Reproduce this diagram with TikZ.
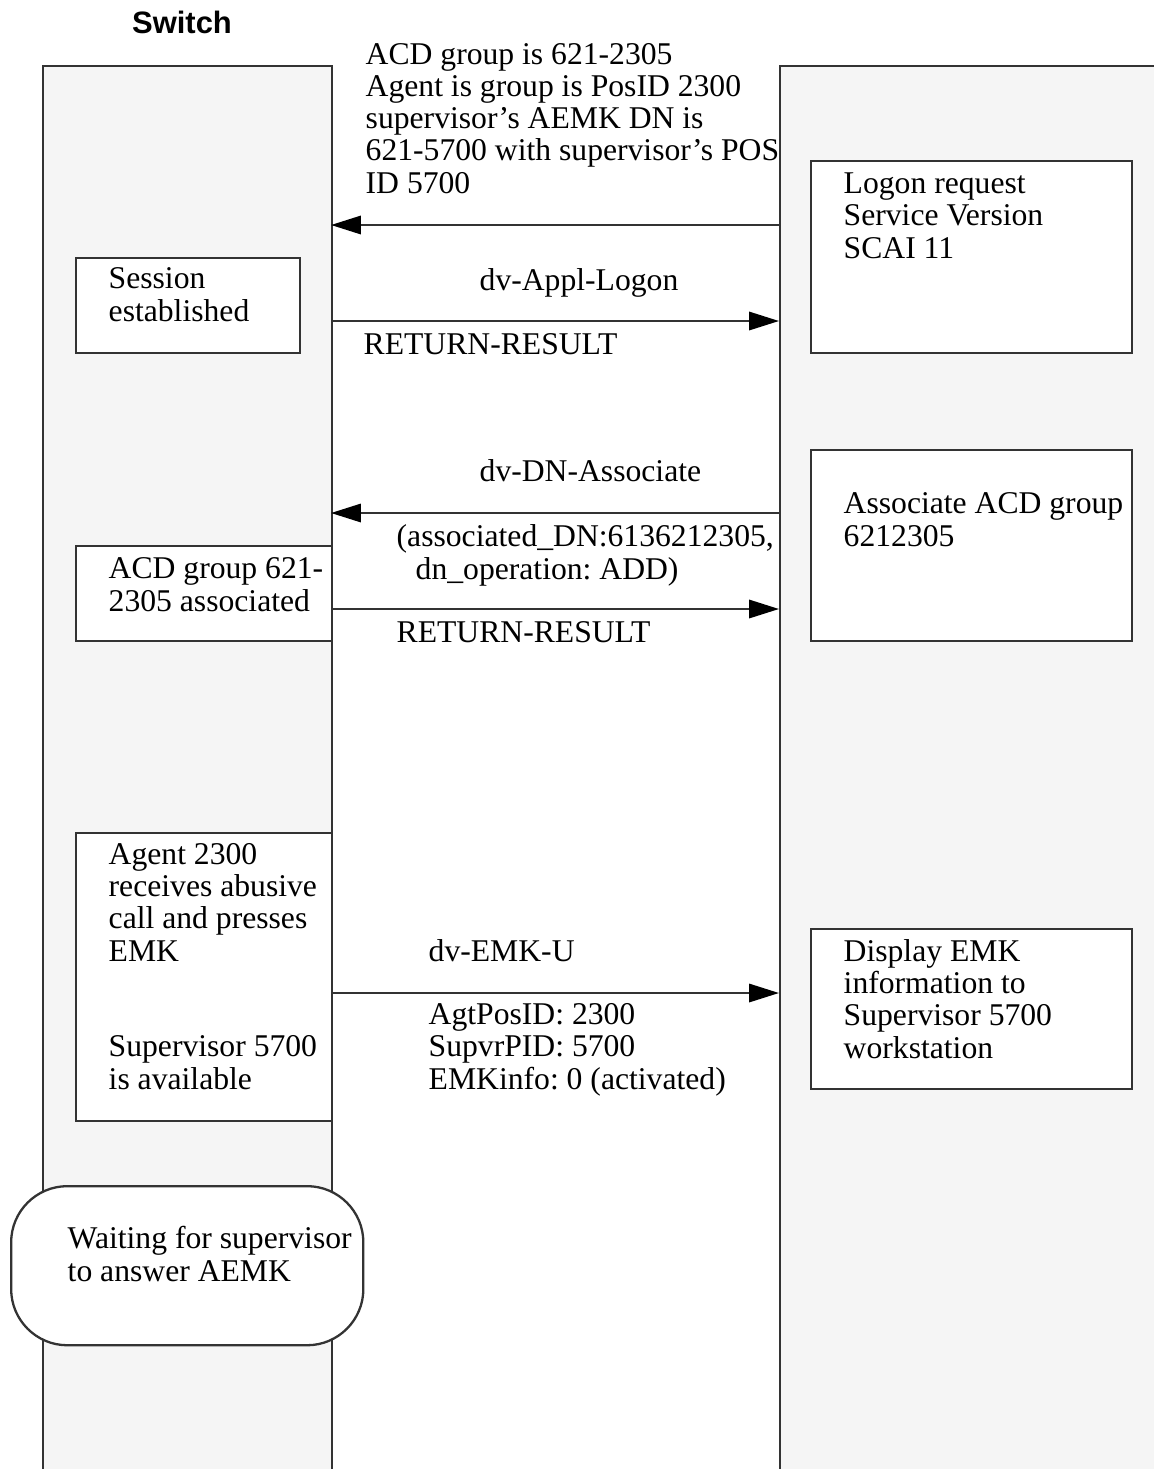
\documentclass[tikz,border=0pt]{standalone}
\usepackage{fontspec}
\setmainfont{Liberation Serif}
\newfontfamily\headfont{Liberation Sans}
\usetikzlibrary{arrows.meta}
\definecolor{gray50}{HTML}{F5F5F5}
\definecolor{gray800}{HTML}{333333}
\frenchspacing
\tikzstyle{lifeline}=[draw=gray800, fill=gray50, line width=0.65pt]
\tikzstyle{stepbox}=[rectangle, draw=gray800, fill=white, line width=0.65pt, inner sep=0pt, anchor=north west]
\tikzstyle{waitbox}=[stepbox, rounded corners=16pt]
% multi-line texts sit on the baseline of their last line
\tikzstyle{txt}=[anchor=base west, inner sep=0pt, align=left, font=\fontsize{9}{9.15}\selectfont]
\tikzstyle{msg}=[draw=gray800, line width=0.65pt, ->]

\begin{document}
\begin{tikzpicture}[x=0.01cm, y=-0.01cm, >={Triangle[length=8.5pt,width=5.2pt,color=black]}]
	\clip (0,0) rectangle (1154,1469);
	\fill[white] (0,0) rectangle (1154,1469);
	% the two lifelines
	\node[lifeline, rectangle, anchor=north west, minimum width=2.89cm, minimum height=14.4cm] (switch) at (42,65) {};
	\node[lifeline, rectangle, anchor=north west, minimum width=4cm, minimum height=14.4cm] (appl) at (779,65) {};
	\node[txt, anchor=base, font=\headfont\bfseries\fontsize{8.8}{10}\selectfont] (switchlbl) at (182,33) {Switch};

	% boxes
	\node[stepbox, minimum width=3.21cm, minimum height=1.92cm] (logon) at (810,160) {};
	\node[stepbox, minimum width=2.24cm, minimum height=0.95cm] (session) at (75,257) {};
	\node[stepbox, minimum width=3.21cm, minimum height=1.91cm] (assoc) at (810,449) {};
	\node[stepbox, minimum width=2.56cm, minimum height=0.95cm] (acdgrp) at (75,545) {};
	\node[stepbox, minimum width=2.56cm, minimum height=2.88cm] (agent) at (75,832) {};
	\node[stepbox, minimum width=3.21cm, minimum height=1.60cm] (display) at (810,928) {};
	\node[waitbox, minimum width=3.52cm, minimum height=1.59cm] (waiting) at (10,1185) {};

	% box texts
	\node[txt] (params) at (365,193) {ACD group is 621-2305\\Agent is group is PosID 2300\\supervisor's AEMK DN is\\621-5700 with supervisor's POS\\ID 5700};
	\node[txt] (logontxt) at (843,258) {Logon request\\Service Version\\SCAI 11};
	\node[txt] (sessiontxt) at (108,321) {Session\\established};
	\node[txt] (assoctxt) at (843,546) {Associate ACD group\\6212305};
	\node[txt] (acdgrptxt) at (108,611) {ACD group 621-\\2305 associated};
	\node[txt] (agenttxt) at (108,961) {Agent 2300\\receives abusive\\call and presses\\EMK};
	\node[txt] (supvtxt) at (108,1089) {Supervisor 5700\\is available};
	\node[txt] (displaytxt) at (843,1058) {Display EMK\\information to\\Supervisor 5700\\workstation};
	\node[txt] (waitingtxt) at (67,1281) {Waiting for supervisor\\to answer AEMK};

	% message labels
	\node[txt] (logonmsg) at (479,290) {dv-Appl-Logon};
	\node[txt] (logonres) at (363,354) {RETURN-RESULT};
	\node[txt] (dnmsg) at (479,481) {dv-DN-Associate};
	\node[txt] (dnargs) at (396,579) {(associated\_DN:6136212305,\\\hspace*{0.19cm}dn\_operation: ADD)};
	\node[txt] (dnres) at (396,642) {RETURN-RESULT};
	\node[txt] (emkmsg) at (428,961) {dv-EMK-U};
	\node[txt] (emkargs) at (428,1089) {AgtPosID: 2300\\SupvrPID: 5700\\EMKinfo: 0 (activated)};

	% message ends on the lifelines
	\coordinate (s1) at (331,225);
	\coordinate (a1) at (779,225);
	\coordinate (s2) at (331,321);
	\coordinate (a2) at (779,321);
	\coordinate (s3) at (331,513);
	\coordinate (a3) at (779,513);
	\coordinate (s4) at (331,609);
	\coordinate (a4) at (779,609);
	\coordinate (s5) at (331,993);
	\coordinate (a5) at (779,993);

	\draw[msg] (a1) -- (s1);
	\draw[msg] (s2) -- (a2);
	\draw[msg] (a3) -- (s3);
	\draw[msg] (s4) -- (a4);
	\draw[msg] (s5) -- (a5);
\end{tikzpicture}
\end{document}
